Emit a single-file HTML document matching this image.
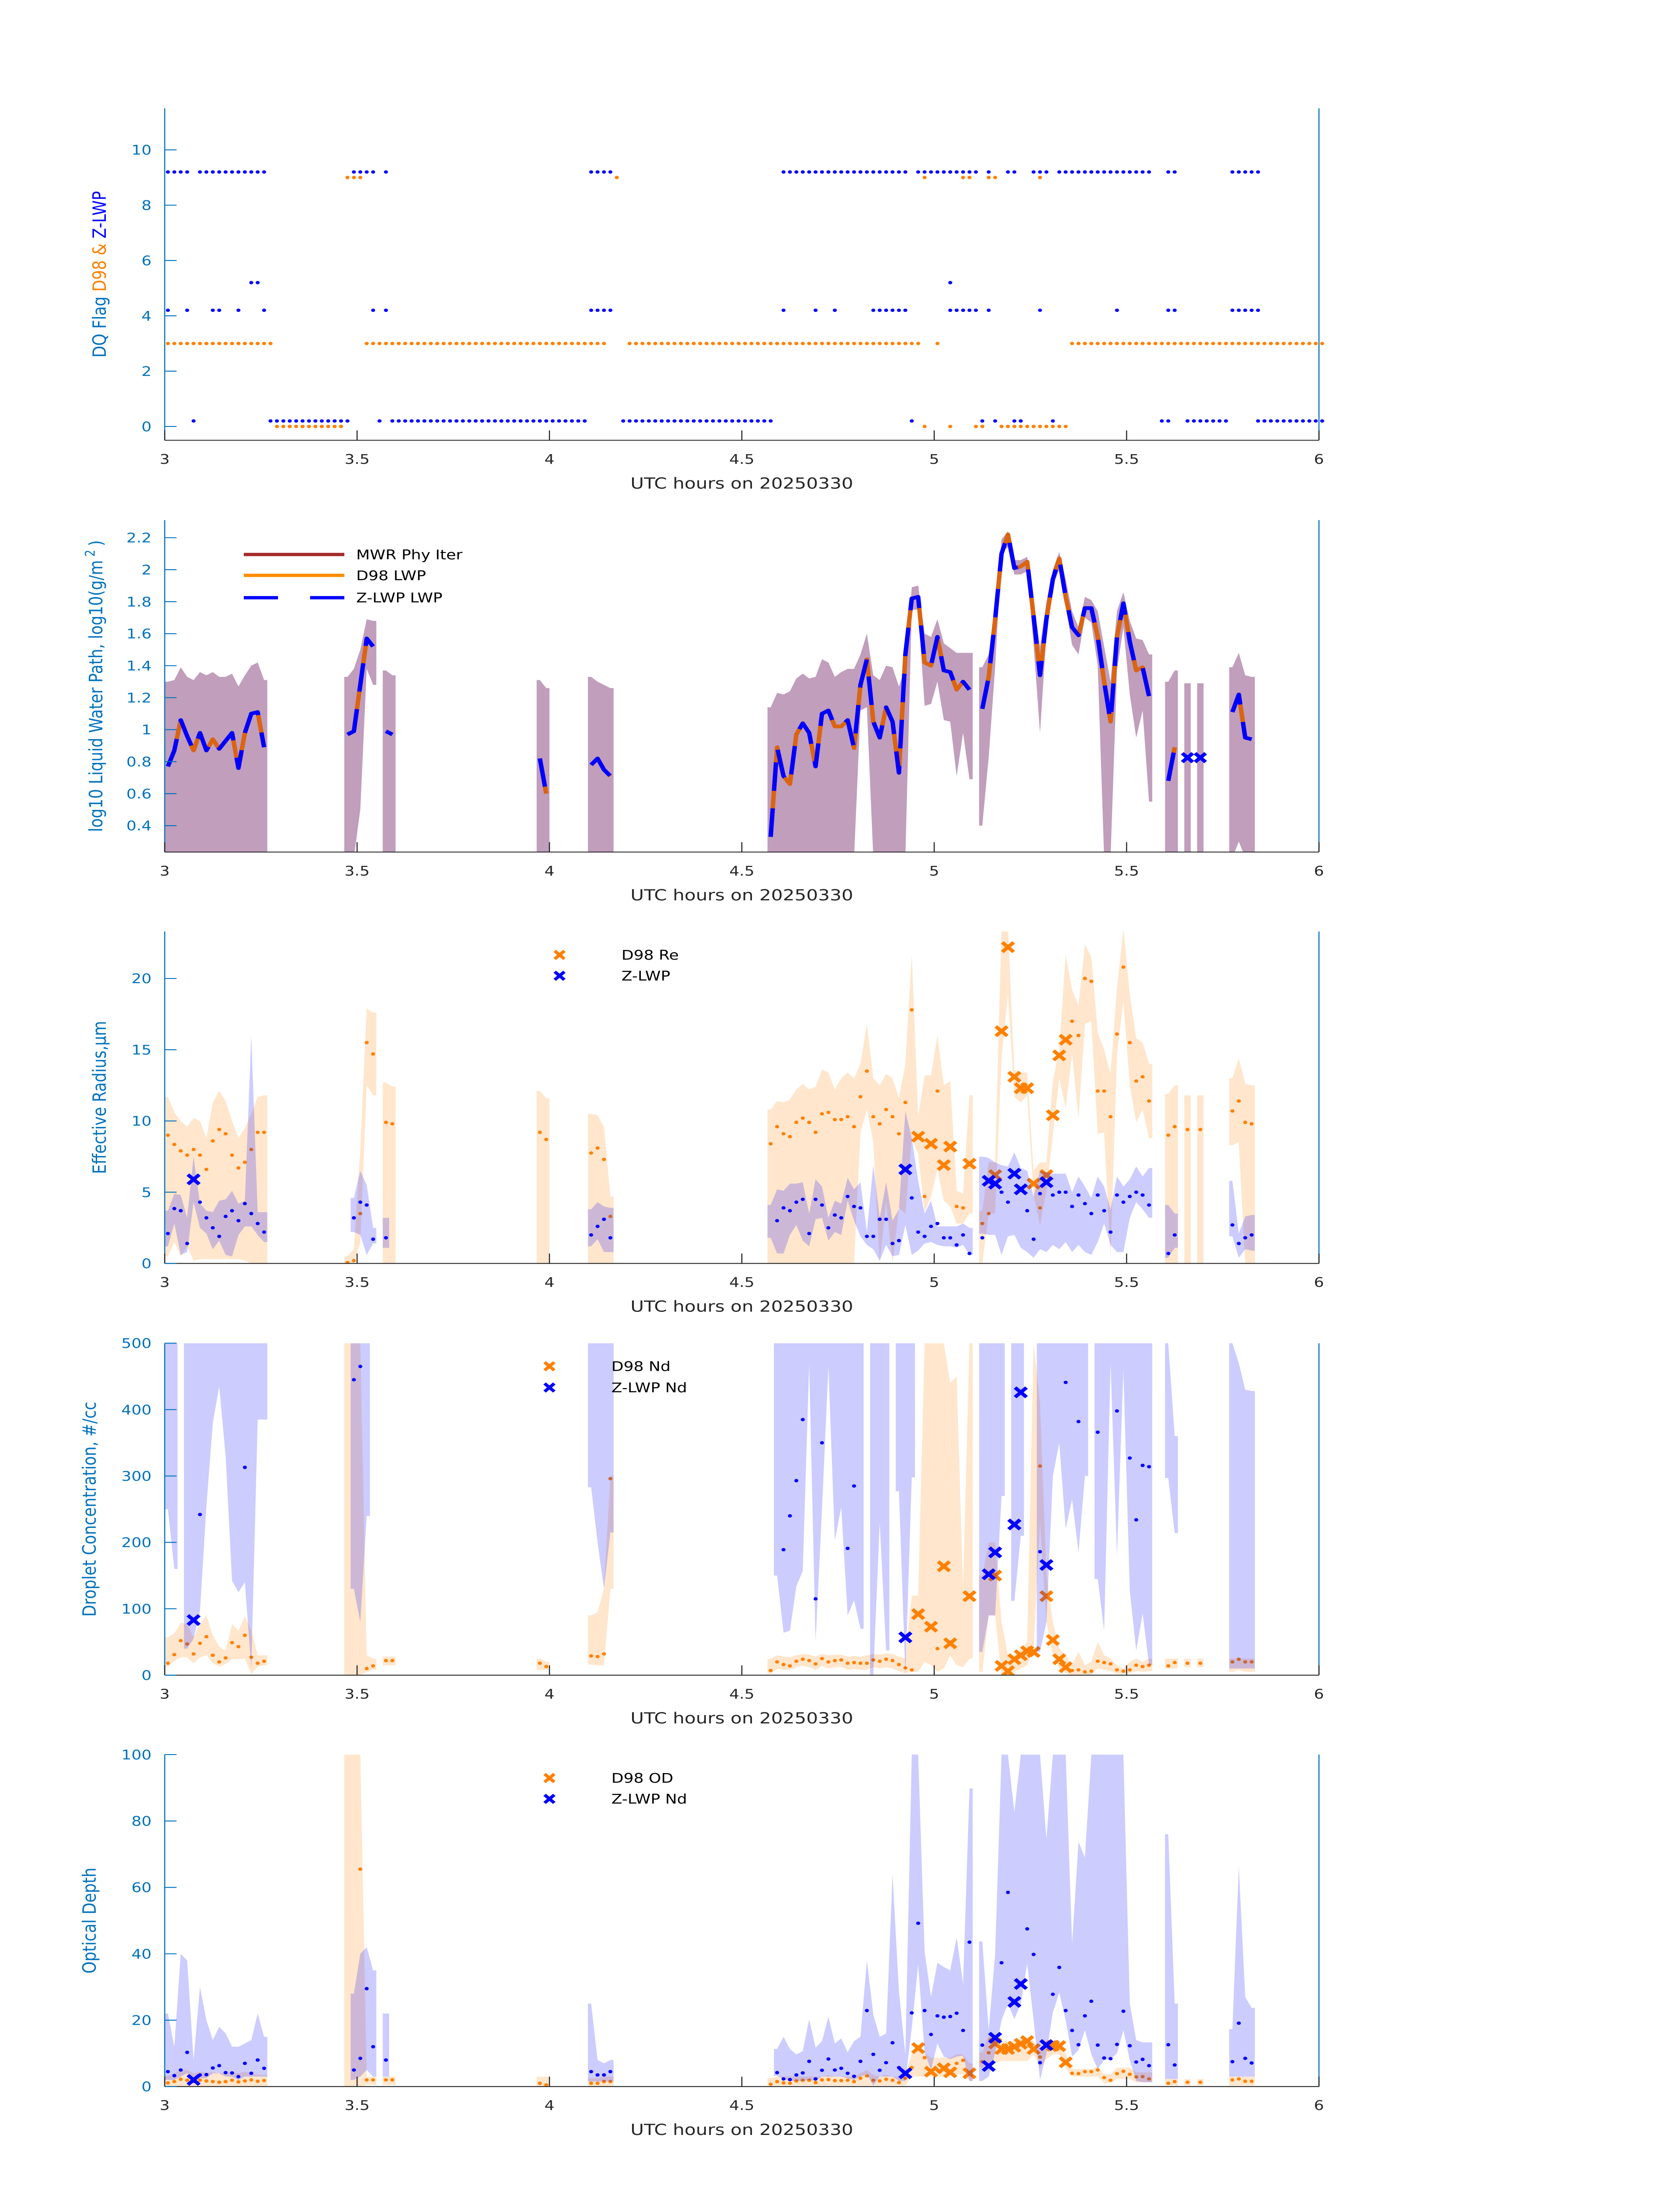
<!DOCTYPE html>
<html><head><meta charset="utf-8"><title>DQ flags and retrievals 20250330</title>
<style>html,body{margin:0;padding:0;background:#fff;width:100vw;height:100vh;overflow:hidden;position:relative}svg{display:block;position:absolute;left:0;top:0;width:100vw;height:100vh}text{font-family:"DejaVu Sans","Liberation Sans",sans-serif}</style>
</head><body>
<svg id="fig" xmlns="http://www.w3.org/2000/svg" viewBox="0 0 3825 6000" preserveAspectRatio="none"><rect x="0" y="0" width="3825" height="6000" fill="#fff"/></svg>
<script>
// ---------- DATA ----------
const minuteSegments=[[0,15],[28,35],[58,59],[66,69],[94,169]];
const xTickValues=[3,3.5,4,4.5,5,5.5,6];
const xTickLabels=["3","3.5","4","4.5","5","5.5","6"];
// Panel 1 flag runs (minute ranges)
const zlwp92Runs=[[0,3],[5,15],[29,32],[34,34],[66,69],[96,115],[117,126],[128,128],[131,132],[135,137],[139,153],[156,157],[166,170]];
const zlwp52Runs=[[13,14],[122,122]];
const zlwp42Runs=[[0,0],[3,3],[7,8],[11,11],[15,15],[32,32],[34,34],[66,69],[96,96],[101,101],[104,104],[110,115],[122,126],[128,128],[136,136],[148,148],[156,157],[166,170]];
const zlwp02Runs=[[4,4],[16,28],[33,33],[35,65],[71,94],[116,116],[127,127],[129,129],[132,133],[138,138],[155,156],[159,165],[170,180]];
const d98Flag9Runs=[[28,30],[70,70],[118,118],[124,125],[128,129],[136,136]];
const d98Flag3Runs=[[0,16],[31,68],[72,117],[120,120],[141,180]];
const d98Flag0Runs=[[17,27],[118,118],[122,122],[126,127],[130,140]];
// Panel 2 LWP
const lwp=[0.77,0.87,1.06,0.96,0.87,0.98,0.87,0.94,0.88,0.93,0.98,0.76,0.98,1.10,1.11,0.89, 0.97,0.99,1.28,1.57,1.52,null,0.99,0.97, 0.82,0.60, 0.78,0.82,0.75,0.71,
0.33,0.89,0.71,0.66,0.97,1.04,0.98,0.77,1.10,1.12,
1.02,1.02,1.06,0.885,1.28,1.44,1.05,0.95,1.14,1.05,
0.73,1.47,1.82,1.83,1.42,1.40,1.58,1.37,1.36,1.25,
1.30,1.25,null,1.13,1.33,1.69,2.10,2.22,2.01,2.02,
2.05,1.71,1.34,1.69,1.94,2.07,1.83,1.64,1.59,1.76,
1.76,1.58,1.30,1.05,1.58,1.79,1.55,1.37,1.39,1.21,
null,null,0.68,0.89,null,0.825,null,0.825,null,null,
null,null,1.11,1.22,0.95,0.94];
const lwpHi=[1.30,1.31,1.39,1.33,1.31,1.36,1.34,1.36,1.33,1.33,1.35,1.27,1.34,1.40,1.42,1.31, 1.33,1.38,1.50,1.69,1.68,null,1.37,1.34, 1.31,1.26, 1.33,1.30,1.28,1.26,
1.14,1.23,1.22,1.24,1.32,1.35,1.32,1.33,1.44,1.42,
1.33,1.36,1.38,1.38,1.47,1.60,1.34,1.31,1.40,1.39,
1.27,1.39,1.89,1.90,1.60,1.58,1.69,1.54,1.51,1.48,
1.48,1.48,null,1.39,1.47,1.73,2.19,2.24,2.06,2.06,
2.08,1.80,1.52,1.80,2.00,2.11,1.94,1.74,1.64,1.83,
1.81,1.74,1.52,1.30,1.74,1.86,1.68,1.57,1.56,1.47,
null,null,1.30,1.37,null,1.29,null,1.29,null,null,
null,null,1.39,1.48,1.34,1.33];
const lwpLo=[0.2,0.2,0.2,0.2,0.2,0.2,0.2,0.2,0.2,0.2,0.2,0.2,0.2,0.2,0.2,0.2, 0.2,0.2,0.5,1.38,1.28,null,0.2,0.2, 0.2,0.2, 0.2,0.2,0.2,0.2,
0.2,0.2,0.2,0.2,0.2,0.2,0.2,0.2,0.2,0.2,
0.2,0.2,0.2,0.2,1.12,1.14,0.2,0.2,0.2,0.2,
0.2,0.2,1.75,1.75,1.15,1.16,1.3,1.06,1.05,0.71,
0.98,0.69,null,0.4,0.83,1.39,2.11,2.14,1.97,1.97,
1.99,1.53,0.98,1.6,1.9,2.0,1.77,1.53,1.47,1.7,
1.67,1.4,0.2,0.2,1.37,1.64,1.22,0.95,1.12,0.55,
null,null,0.2,0.2,null,0.2,null,0.2,null,null,
null,null,0.2,0.3,0.2,0.2];
// Panel 3 effective radius
const reD98=[9.0,8.35,7.9,7.6,8.0,7.6,6.6,8.6,9.4,9.1,7.6,6.7,7.1,8.0,9.2,9.2, 0.06,0.2,3.5,15.5,14.7,null,9.9,9.8, 9.2,8.7, 7.75,8.1,7.3,3.3,
8.4,9.6,9.1,8.9,9.9,10.2,9.9,9.2,10.5,10.6,
10.1,10.1,10.3,9.6,11.7,13.5,10.3,9.8,10.8,10.3,
9.1,11.3,17.8,8.9,4.7,8.4,12.1,6.9,8.2,4.0,
3.9,7.0,null,2.8,3.5,6.2,16.3,22.2,13.1,12.3,
12.3,5.6,3.9,6.2,10.4,14.6,15.7,17.0,16.0,20.0,
19.8,12.1,12.1,10.3,16.1,20.8,15.5,12.8,13.1,11.4,
null,null,9.0,9.6,null,9.4,null,9.4,null,null,
null,null,10.7,11.4,9.9,9.8];
const reD98Hi=[11.7,10.6,10,9.6,10.2,10,8.8,11.3,12.1,11.4,10,8.8,9.5,10.5,11.7,11.8, 0.5,1.0,8,17.9,17.6,null,12.7,12.4, 12.1,11.6, 10.5,10.4,9.6,4.7,
10.8,11.4,11.3,11.5,12.2,12.6,12.2,12.4,13.6,13.4,
12.2,13.0,13.4,13.0,14.0,16.8,13.0,12.5,13.3,13.0,
11.6,14.0,21.7,10.3,13.2,13.2,16.0,12.5,12.8,5.1,
4.9,11.8,null,3.7,7.1,7.1,23.5,23.5,13.6,13.4,
13.4,6.5,7.1,7.1,12.8,15.0,21.7,19.2,18.1,22.4,
21.5,16.2,15.0,13.3,19.3,23.5,18.9,15.8,15.5,14.0,
null,null,11.9,12.5,null,11.8,null,11.8,null,null,
null,null,13.0,14.4,12.6,12.5];
const reD98Lo=[0.5,1.5,0.5,1.2,0.2,0.3,0.3,0.3,0.3,0.3,0.3,0.3,0.2,0,0,0, 0,0,1.5,12.5,11.8,null,0,0, 0,0, 0,0,0,0,
0,0,0,0,0,0,0,0,0,0,
0,0,0,0,9.2,10.8,8.5,0,4.3,0,
3.9,3.5,8.8,7.7,3.6,4.7,6.6,4.4,4.0,2.8,
2.8,3.5,null,0,3.5,3.5,14.4,18.9,11.7,11.3,
11.8,4.8,2.7,5.1,9.0,13.0,10.9,14.7,10.2,16.8,
17.0,9.1,9.2,0.4,14.7,18.4,12.5,9.9,10.8,8.8,
null,null,0,0,null,0,null,0,null,null,
null,null,8.3,8.5,0,0];
const reZ=[2.1,3.85,3.7,1.4,5.9,4.3,3.2,2.5,1.9,3.3,3.7,3.0,4.2,3.5,2.8,2.2, null,3.2,4.3,4.1,1.7,null,1.8,null, null,null, 2.0,2.6,3.1,1.8,
null,3.0,3.9,3.7,4.3,4.5,2.1,4.5,4.1,2.5,
3.4,3.2,4.7,4.0,3.9,1.9,1.9,3.1,3.1,1.4,
1.6,6.6,4.6,2.2,1.9,2.6,2.8,1.8,1.8,1.3,
2.0,0.7,null,1.8,5.8,5.6,5.0,4.3,6.3,5.2,
3.7,1.7,4.9,5.7,4.8,5.0,5.0,4.0,4.8,4.2,
3.5,4.8,3.7,2.2,4.8,4.3,4.7,5.0,4.8,4.1,
null,null,0.7,2.0,null,null,null,null,null,null,
null,null,2.7,1.4,1.8,2.0];
const reZHi=[3.7,4.9,4.8,3.2,7.5,4.2,3.7,3.6,4.4,4.5,5.1,4.2,4.4,16,3.6,3.6, null,4.6,6.5,5.5,2.5,null,3.2,null, null,null, 3.8,4.3,4.0,3.9,
4.1,5.2,5.1,5.6,5.6,5.7,3.5,5.9,5.4,3.2,
4.4,4.2,6.0,5.2,5.7,2.2,6.9,3.2,5.7,3.0,
3.8,10.7,8.8,5.8,3.5,4.4,2.6,2.6,2.6,2.6,
2.8,2.5,null,7.5,7.4,7.1,6.9,6.8,7.8,6.7,
6.5,4.7,6.5,6.4,6.3,6.3,6.3,5.0,6.1,5.4,
4.6,6.1,5.4,3.8,6.1,5.4,5.9,6.8,6.1,6.7,
null,null,4.1,3.5,null,null,null,null,null,null,
null,null,5.8,2.1,3.3,3.4];
const reZLo=[1.2,2.8,0.6,0.8,4.3,2.5,2.1,1.0,1.6,0.6,0.5,2.0,2.6,2.6,2.0,1.5, null,2.2,2.0,0.6,1.4,null,1.1,null, null,null, 1.2,1.7,0.8,0.8,
1.8,0.7,0.7,2.0,2.7,1.6,1.2,3.1,3.2,1.6,
2.2,2.0,4.4,3.0,1.9,1.3,1.0,0.2,1.3,0.5,
0.6,2.7,0.6,0.9,1.4,1.5,1.3,1.2,1.2,1.1,
1.3,0.6,null,2.1,2.0,2.0,0.6,1.9,2.0,1.1,
0.8,0.4,1.0,0.8,1.3,1.0,1.5,0.8,1.3,0.8,
0.6,1.5,2.8,1.3,0.8,0.8,3.2,4.3,3.8,3.2,
null,null,0.4,1.1,null,null,null,null,null,null,
null,null,1.9,0.4,1.0,0.9];
// Panel 4 droplet concentration
const ndD98=[18,31,52,47,32,48,58,30,20,26,49,43,60,27,18,21, null,null,null,10,14,null,22,22, 18,13, 29,28,32,296,
7,20,16,14,21,24,22,17,25,20,
22,23,18,19,18,18,23,21,24,22,
16,11,8,92,null,73,40,164,48,null,
null,119,null,null,null,150,14,6,24,30,
36,35,315,119,53,24,12,7,8,5,
6,21,19,17,8,6,8,15,13,15,
null,null,14,19,null,18,null,18,null,null,
null,null,20,24,20,20];
const ndD98Hi=[57,63,79,77,57,77,90,60,43,37,77,67,89,67,30,30, 500,500,500,30,25,null,28,28, 25,20, 90,95,130,300,
25,30,28,27,30,32,31,28,32,30,
31,31,28,29,28,30,32,31,33,32,
28,25,120,120,500,500,500,500,440,450,
130,500,null,150,200,200,80,30,30,40,
50,500,410,150,80,40,30,15,35,15,
20,50,30,25,15,10,20,25,20,25,
null,null,25,25,null,25,null,25,null,null,
null,null,25,25,25,25];
const ndD98Lo=[13,21,27,27,18,27,30,18,13,17,24,24,25,2,13,15, 0,0,0,5,8,null,15,15, 8,8, 16,15,15,130,
2,10,8,8,12,14,12,8,14,10,
12,12,8,9,8,8,12,10,12,10,
6,3,5,5,20,15,5,10,30,15,
12,25,null,5,90,90,0,0,5,10,
15,40,230,80,30,10,3,0,0,0,
0,10,8,6,2,2,3,6,5,6,
null,null,10,10,null,12,null,12,null,null,
null,null,5,8,5,5];
const ndZMinutes=[4,5,12,29,30,96,97,98,99,101,102,106,107,115,128,129,132,133,136,137,140,142,145,148,150,151,152,153];
const ndZ=[83,242,313,445,465,189,240,293,385,115,350,191,285,57,152,185,227,426,186,166,441,382,366,398,327,234,316,314];
const ndZHi=[500,500,null,500,500,500,500,500,500,500,500,500,500,500,500,500, null,500,500,500,null,null,null,null, null,null, 500,500,500,500,
null,500,500,500,500,500,500,500,500,500,
500,500,500,500,500,null,500,500,500,null,
500,500,500,null,null,null,null,null,null,null,
null,null,null,500,500,500,500,null,500,500,
null,null,500,500,500,500,500,500,500,500,
null,500,500,500,500,500,500,500,500,500,
null,null,500,360,null,null,null,null,null,null,
null,null,500,470,430,428];
const ndZLo=[250,160,null,40,55,97,254,380,435,330,142,125,140,10,385,385, null,130,80,240,null,null,null,null, null,null, 283,200,130,215,
null,150,64,67,134,157,468,50,250,465,
203,253,90,113,70,null,0,230,37,null,
277,0,298,null,null,null,null,null,null,null,
null,null,null,35,90,90,270,null,112,210,
null,null,35,80,300,350,220,265,185,300,
null,145,67,470,180,460,127,37,93,15,
null,null,297,214,null,null,null,null,null,null,
null,null,10,10,10,10];
// Panel 5 optical depth
const odD98=[1.1,1.5,2.2,1.9,1.5,1.9,1.7,1.5,1.3,1.5,1.9,1.4,1.7,2,1.6,1.8, null,null,65.5,2,2,null,2,2, 1,0.5, 1,1,1.5,1.5,
0.7,1.5,1.1,1.0,1.7,1.9,1.9,1.2,2.0,2.1,
1.8,1.8,1.9,1.5,2.5,3.2,1.9,1.7,2.2,1.9,
1.2,2.5,5.7,11.6,8.7,4.5,5.0,5.5,4.3,7.0,
7.9,4.0,null,7.5,10.2,13.0,11.3,11.3,12.0,12.9,
13.7,11.3,8.9,12.5,12.3,12.2,7.3,4.0,3.9,4.5,
4.5,5.0,2.7,1.9,3.9,4.6,3.7,2.9,3.0,2.3,
null,null,1.0,1.5,null,1.3,null,1.3,null,null,
null,null,2.0,2.3,1.6,1.6];
const odD98Hi=[3.3,4,5,5,4,4.5,4.2,4.3,4,4.2,4.3,4,4.5,4,3.5,3.5, 100,100,100,3,3,null,3,3, 3,3, 2.5,2.5,3,3,
2.5,3,3,3,3,3,3,3,3,3.5,
3,3,3,3,4,5,3.5,3,3.5,3,
3,4,9.7,13,10,8.7,8.7,8.7,8.7,9.7,
9.7,7,null,10.3,15.7,15.7,13.7,13.7,13.7,14.5,
15,13.7,11,13.7,13.3,13.3,10,5.3,5.3,5.3,
5.3,6,3.7,3.7,5.7,5.7,5.7,4.3,4.3,4.3,
null,null,2.3,2.3,null,2.3,null,2.3,null,null,
null,null,3,3,3,3];
const odD98Lo=[0,0,0,0,0,0,0,0,0,0,0,0,0,0,0,0, 0,0,0,0.5,0.5,null,0.5,0.5, 0,0, 0,0,0,0,
0.3,0.3,0.3,0.3,0.3,0.3,0.3,0.3,0.3,0.3,
0.3,0.3,0.3,0.3,0.3,0.3,0.3,0.3,0.3,0.3,
0.3,0.3,3,3,3,3,3,3,3,3.7,
3.7,1.7,null,5.7,7,7,7.7,7.7,7.7,7.7,
7.7,9.7,5.7,8.3,9.7,9.7,5.7,3,3,3,
3,3,1,1,2.3,2.3,2.3,1.3,1.3,1.3,
null,null,0.3,0.3,null,0.3,null,0.3,null,null,
null,null,0.3,0.3,0.3,0.3];
const odZ=[4.5,3.3,5.0,10.3,2.0,3.5,3.6,5.6,6.3,4.2,4.1,3.0,7,4,8,5.5, null,5,8.5,29.5,12,null,8,null, null,null, 4.5,3.5,3.5,4.5,
null,4.2,2.3,2.1,3.5,4.1,7.6,2.3,4.9,8.3,
5,5.5,4,3.1,7.6,22.9,9.7,4.9,7.2,13.2,
5.7,4,22.2,49.2,22.9,15.7,21.3,20.9,21.1,22.1,
16.9,43.5,null,12.5,6.2,14.7,37.3,58.5,25.5,30.9,
47.5,39.8,7.2,12.5,27.8,35.9,22.9,16.9,12.6,21.3,
25.7,12.5,8.6,8.4,12.7,22.7,12.3,7.4,8.2,6.3,
null,null,12.6,6.5,null,null,null,null,null,null,
null,null,7.5,19.1,8.5,7.1];
const odZHi=[22,12,40,38,8,30,20,14,18,16,12,12,13,14,22,15, null,28,40,42,35,null,22,null, null,null, 25,8,7,8,
null,11.3,15,11.3,9.7,10.7,20.3,11.7,13.7,21,
13,14.5,10.3,13.7,15,38,21.7,15,16,64,
28.7,9.7,100,100,40.7,27,37.3,36,35,45,
31,89.8,null,43.7,17,40,100,100,82.7,100,
100,100,100,74.5,100,100,100,43,73.7,69,
100,100,100,100,100,100,25,14,13.3,13.3,
null,null,76,25,null,null,null,null,null,null,
null,null,17.3,66.3,27,23.7];
const odZLo=[2,2,3,4,1,2.5,2.5,4,4,3,3,2,3,3,3,3, null,2,3,5,3,null,3,null, null,null, 1.5,1.5,1.5,1.5,
null,3.2,2.3,1.7,1.7,1.7,2,1.7,3,3,
3,3,2.5,2,3,3.7,0.3,3,3,3,
1.7,1.7,17.7,36.7,10.3,5,13,9,8.3,9,
9.3,1.7,null,1.7,3,10,20,25,20.3,25,
37,20,2,10,22.3,28.3,20,9,11,17,
9.7,5.3,8,8.3,10,17,8,1.7,1.3,1.3,
null,null,2.3,2.3,null,null,null,null,null,null,
null,null,3,3,3,3];
const zlwpXMinutes=[4,115,128,129,132,133,137];
const d98XMinutes=[117,119,121,122,125,129,130,131,132,133,134,135,137,138,139,140];

// ---------- LAYOUT ----------
const NS="http://www.w3.org/2000/svg";
const svg=document.getElementById('fig');
const X0=375,X1=3003;
const BLUEAX="#0072BD",DARK="#262626";
const minutes=[];
minuteSegments.forEach(s=>{for(let m=s[0];m<=s[1];m++)minutes.push(m);});
function xOf(t){return X0+(t-3)/3*(X1-X0);}
function tOf(m){return 3+(m+0.5)/60;}
function mk(tag,attrs,parent){const e=document.createElementNS(NS,tag);for(const k in attrs)e.setAttribute(k,attrs[k]);(parent||svg).appendChild(e);return e;}
const panels=[
 {top:296,bottom:1203,ymin:-0.5,ymax:11.5,ticks:[0,2,4,6,8,10],labels:["0","2","4","6","8","10"]},
 {top:1421,bottom:2328,ymin:0.235,ymax:2.31,ticks:[0.4,0.6,0.8,1,1.2,1.4,1.6,1.8,2,2.2],labels:["0.4","0.6","0.8","1","1.2","1.4","1.6","1.8","2","2.2"]},
 {top:2545,bottom:3452,ymin:0,ymax:23.3,ticks:[0,5,10,15,20],labels:["0","5","10","15","20"]},
 {top:3670,bottom:4577,ymin:0,ymax:500,ticks:[0,100,200,300,400,500],labels:["0","100","200","300","400","500"]},
 {top:4794,bottom:5701,ymin:0,ymax:100,ticks:[0,20,40,60,80,100],labels:["0","20","40","60","80","100"]}
];
panels.forEach(p=>{p.y=v=>p.bottom-(v-p.ymin)/(p.ymax-p.ymin)*(p.bottom-p.top);});
const defs=mk('defs',{});
panels.forEach((p,i)=>{const c=mk('clipPath',{id:'clip'+i},defs);mk('rect',{x:X0,y:p.top,width:X1-X0,height:p.bottom-p.top},c);});

function runs(arrs){const out=[];let cur=null;
 for(let i=0;i<minutes.length;i++){const ok=arrs.every(a=>a[i]!==null&&a[i]!==undefined);
  if(ok&&cur&&minutes[i]===minutes[i-1]+1){cur.push(i);}else if(ok){cur=[i];out.push(cur);}else{cur=null;}}
 return out;}
function band(g,p,lo,hi,fill,op,name){
 runs([lo,hi]).forEach(r=>{
  const t0=tOf(minutes[r[0]])-0.5/60,t1=tOf(minutes[r[r.length-1]])+0.5/60;
  let d='M'+xOf(t0)+','+p.y(hi[r[0]]);
  r.forEach(i=>{d+=' L'+xOf(tOf(minutes[i]))+','+p.y(hi[i]);});
  d+=' L'+xOf(t1)+','+p.y(hi[r[r.length-1]])+' L'+xOf(t1)+','+p.y(lo[r[r.length-1]]);
  for(let k=r.length-1;k>=0;k--){d+=' L'+xOf(tOf(minutes[r[k]]))+','+p.y(lo[r[k]]);}
  d+=' L'+xOf(t0)+','+p.y(lo[r[0]])+' Z';
  const e=mk('path',{d:d,fill:fill,'fill-opacity':op},g);
  
  
 });}
function xMark(g,x,y,color,h,w){
 const e=mk('path',{d:'M'+(x-h)+','+(y-h)+' L'+(x+h)+','+(y+h)+' M'+(x-h)+','+(y+h)+' L'+(x+h)+','+(y-h),stroke:color,'stroke-width':w,fill:'none'},g);
 return e;}
function dots(g,p,mins,vals,color,xList,name){
 for(let i=0;i<vals.length;i++){const v=vals[i];if(v===null)continue;
  const m=mins[i],x=xOf(tOf(m)),y=p.y(v);
  if(xList.indexOf(m)>=0){const e=xMark(g,x,y,color,13,9);
   
   }
  else{const e=mk('circle',{cx:x,cy:y,r:4.6,fill:color},g);
   
   }}}

function axes(p,idx,ylabelParts){
 const g=mk('g',{});
 
 
 let e=mk('line',{x1:X0,y1:p.bottom,x2:X1,y2:p.bottom,stroke:DARK,'stroke-width':2.5},g);
 
 
 e=mk('line',{x1:X0,y1:p.top,x2:X0,y2:p.bottom,stroke:BLUEAX,'stroke-width':2.5},g);
 
 
 e=mk('line',{x1:X1,y1:p.top,x2:X1,y2:p.bottom,stroke:BLUEAX,'stroke-width':2.5},g);
 
 
 xTickValues.forEach((t,k)=>{const x=xOf(t);
  const tk=mk('line',{x1:x,y1:p.bottom,x2:x,y2:p.bottom-27,stroke:DARK,'stroke-width':2.5},g);
  
  
  const tl=mk('text',{x:x,y:p.bottom+64,'font-size':36,fill:DARK,'text-anchor':'middle'},g);
  tl.textContent=xTickLabels[k];
  
  });
 p.ticks.forEach((v,k)=>{const y=p.y(v);
  const tk=mk('line',{x1:X0,y1:y,x2:X0+27,y2:y,stroke:BLUEAX,'stroke-width':2.5},g);
  
  
  const tl=mk('text',{x:345,y:y+13,'font-size':36,fill:BLUEAX,'text-anchor':'end'},g);
  tl.textContent=p.labels[k];
  
  });
 const xl=mk('text',{x:(X0+X1)/2,y:p.bottom+132,'font-size':42,fill:DARK,'text-anchor':'middle'},g);
 xl.textContent='UTC hours on 20250330';
 
 
 const cy=(p.top+p.bottom)/2,cx=ylabelParts.x;
 const yl=mk('text',{x:cx,y:cy,'font-size':42,'text-anchor':'middle',transform:'rotate(-90 '+cx+' '+cy+')'},g);
 
 
 ylabelParts.parts.forEach(pt=>{const s=mk('tspan',{fill:pt[1]},yl);if(pt[2])s.setAttribute('baseline-shift',pt[2]);if(pt[3])s.setAttribute('font-size',pt[3]);s.textContent=pt[0];});
}

// ---------- PANEL 1 ----------
(function(){const p=panels[0];
 const g=mk('g',{});
 
 
 function flagRuns(rl,val,color,name){rl.forEach(r=>{for(let m=r[0];m<=r[1];m++){
  const c=mk('circle',{cx:xOf(tOf(m)),cy:p.y(val),r:4.6,fill:color},g);
  
  }});}
 flagRuns(d98Flag9Runs,9,'#FF8000','d98-flag-point');
 flagRuns(d98Flag3Runs,3,'#FF8000','d98-flag-point');
 flagRuns(d98Flag0Runs,0,'#FF8000','d98-flag-point');
 flagRuns(zlwp92Runs,9.2,'#0000FF','zlwp-flag-point');
 flagRuns(zlwp52Runs,5.2,'#0000FF','zlwp-flag-point');
 flagRuns(zlwp42Runs,4.2,'#0000FF','zlwp-flag-point');
 flagRuns(zlwp02Runs,0.2,'#0000FF','zlwp-flag-point');
 axes(p,0,{x:241,parts:[['DQ Flag  ',BLUEAX],['D98 & ','#FF8000'],['Z-LWP','#0000FF']]});
})();

// ---------- PANEL 2 ----------
(function(){const p=panels[1];
 const g=mk('g',{'clip-path':'url(#clip1)'});
 
 
 band(g,p,lwpLo,lwpHi,'rgb(192,158,188)',1,'lwp-uncertainty-band');
 function line(color,w,dash,op,name){runs([lwp]).forEach(r=>{
  if(r.length===1){if(name==='zlwp-lwp-line'){const e=xMark(g,xOf(tOf(minutes[r[0]])),p.y(lwp[r[0]]),'#0000FF',12,9);
    
    }return;}
  const pts=r.map(i=>xOf(tOf(minutes[i]))+','+p.y(lwp[i])).join(' ');
  const e=mk('polyline',{points:pts,fill:'none',stroke:color,'stroke-width':w,'stroke-opacity':op,'stroke-linejoin':'round'},g);
  if(dash)e.setAttribute('stroke-dasharray',dash);
  
  });}
 line('#A52A2A',10,null,1,'mwr-phy-iter-line');
 line('#FF8C00',10,null,0.6,'d98-lwp-line');
 line('#0000FF',10,'78 48',1,'zlwp-lwp-line');
 axes(p,1,{x:233,parts:[['log10 Liquid Water Path, log10(g/m',BLUEAX],[' 2 ',BLUEAX,'super','30'],[')',BLUEAX]]});
 const lg=mk('g',{});
 
 
 const rows=[['MWR Phy Iter','#A52A2A',null,1515],['D98 LWP','#FF8C00',null,1572],['Z-LWP LWP','#0000FF','78 73',1633]];
 rows.forEach(r=>{const l=mk('line',{x1:555,y1:r[3],x2:784,y2:r[3],stroke:r[1],'stroke-width':9},lg);
  if(r[2])l.setAttribute('stroke-dasharray',r[2]);
  
  
  const t=mk('text',{x:811,y:r[3]+13,'font-size':36,fill:'#000'},lg);t.textContent=r[0];
  
  });
})();

// ---------- PANELS 3-5 ----------
function dualPanel(idx,name,orLo,orHi,orV,blLo,blHi,blMins,blV,label,labelX,legendX,textX,rowY,legendNames){
 const p=panels[idx];
 const g=mk('g',{'clip-path':'url(#clip'+idx+')'});
 
 
 band(g,p,orLo,orHi,'rgb(255,128,0)',0.2,'d98-uncertainty-band');
 dots(g,p,minutes,orV,'#FF8000',d98XMinutes,'d98');
 band(g,p,blLo,blHi,'rgb(0,0,255)',0.2,'zlwp-uncertainty-band');
 dots(g,p,blMins,blV,'#0000FF',zlwpXMinutes,'zlwp');
 axes(p,idx,{x:labelX,parts:[[label,BLUEAX]]});
 const lg=mk('g',{});
 
 
 [['#FF8000',legendNames[0],rowY[0]],['#0000FF',legendNames[1],rowY[1]]].forEach(r=>{
  const e=xMark(lg,legendX,r[2],r[0],11,8);
  
  
  const t=mk('text',{x:textX,y:r[2]+13,'font-size':36,fill:'#000'},lg);t.textContent=r[1];
  
  });
}
dualPanel(2,'effective-radius',reD98Lo,reD98Hi,reD98,reZLo,reZHi,minutes,reZ,'Effective Radius,\u03bcm',241,1274,1415,[2609,2666],['D98 Re','Z-LWP']);
dualPanel(3,'droplet-concentration',ndD98Lo,ndD98Hi,ndD98,ndZLo,ndZHi,ndZMinutes,ndZ,'Droplet Concentration, #/cc',218,1251,1392,[3733,3791],['D98 Nd','Z-LWP Nd']);
dualPanel(4,'optical-depth',odD98Lo,odD98Hi,odD98,odZLo,odZHi,minutes,odZ,'Optical Depth',218,1251,1392,[4858,4915],['D98 OD','Z-LWP Nd']);
</script>
</body></html>
